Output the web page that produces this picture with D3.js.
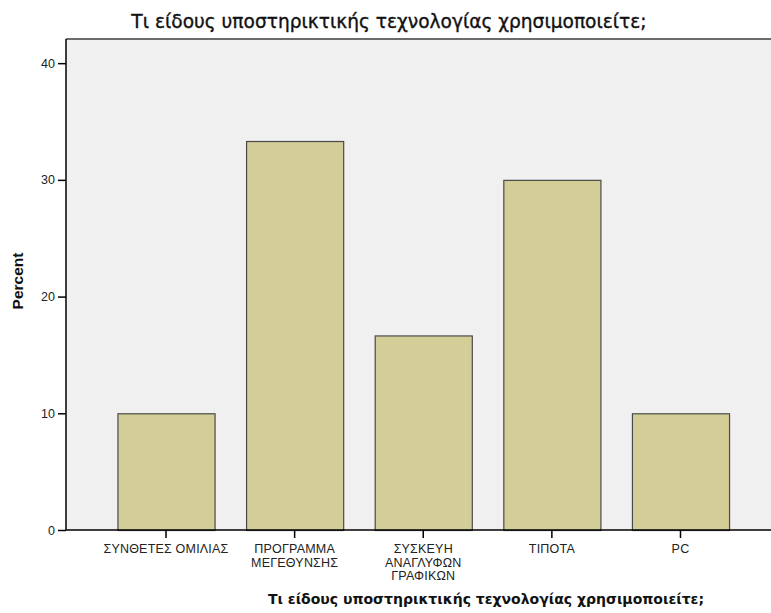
<!DOCTYPE html>
<html>
<head>
<meta charset="utf-8">
<script src="https://cdn.jsdelivr.net/npm/d3@7"></script>
<style>
  body { margin: 0; background: #fff; }
  text { font-family: "Liberation Sans", Arial, sans-serif; }
</style>
</head>
<body>
<svg id="chart"></svg>
<script>
// data
var categories = ["ΣΥΝΘΕΤΕΣ ΟΜΙΛΙΑΣ", "ΠΡΟΓΡΑΜΜΑ ΜΕΓΕΘΥΝΣΗΣ", "ΣΥΣΚΕΥΗ ΑΝΑΓΛΥΦΩΝ ΓΡΑΦΙΚΩΝ", "ΤΙΠΟΤΑ", "PC"];
var labelLines = [["ΣΥΝΘΕΤΕΣ ΟΜΙΛΙΑΣ"], ["ΠΡΟΓΡΑΜΜΑ", "ΜΕΓΕΘΥΝΣΗΣ"], ["ΣΥΣΚΕΥΗ", "ΑΝΑΓΛΥΦΩΝ", "ΓΡΑΦΙΚΩΝ"], ["ΤΙΠΟΤΑ"], ["PC"]];
var percents = [10, 33.33, 16.67, 30, 10];
var yTicks = [0, 10, 20, 30, 40];
var title = "Τι είδους υποστηρικτικής τεχνολογίας χρησιμοποιείτε;";

var width = 771, height = 613;
var plotLeft = 66, plotTop = 39, plotBottom = 530, plotRight = 771;

var svg = d3.select("#chart")
  .attr("width", width)
  .attr("height", height);

var x = d3.scaleBand()
  .domain(categories)
  .range([101.7, 744.8])
  .paddingInner(0.245)
  .paddingOuter(0.1225);

var y = d3.scaleLinear()
  .domain([0, 42.07])
  .range([plotBottom, plotTop]);

// plot background
svg.append("rect")
  .attr("x", plotLeft)
  .attr("y", plotTop)
  .attr("width", plotRight - plotLeft)
  .attr("height", plotBottom - plotTop)
  .attr("fill", "#f0f0f0");

svg.append("line")
  .attr("x1", plotLeft).attr("x2", plotRight)
  .attr("y1", plotTop).attr("y2", plotTop)
  .attr("stroke", "#6b6b6b")
  .attr("stroke-width", 2);

// bars
svg.append("g").selectAll("rect")
  .data(percents)
  .enter()
  .append("rect")
  .attr("x", (d, i) => x(categories[i]) + 0.5)
  .attr("y", d => y(d) + 0.5)
  .attr("width", x.bandwidth())
  .attr("height", d => y(0) - y(d))
  .attr("fill", "#d3ce97")
  .attr("stroke", "#4a4a4a")
  .attr("stroke-width", 1.2);

// y axis
var yAxis = svg.append("g")
  .attr("transform", "translate(" + plotLeft + ",0)")
  .call(d3.axisLeft(y).tickValues(yTicks).tickSize(8).tickSizeOuter(0).tickPadding(3));
yAxis.select(".domain").attr("stroke", "#000").attr("stroke-width", 1.5)
  .attr("d", "M0," + plotTop + "V" + plotBottom);
yAxis.selectAll(".tick line").attr("stroke", "#000").attr("stroke-width", 1.5);
yAxis.selectAll(".tick text")
  .style("font-size", "12.5px")
  .style("font-family", "Liberation Sans, Arial, sans-serif")
  .attr("fill", "#222");

// x axis
var xAxis = svg.append("g")
  .attr("transform", "translate(0," + plotBottom + ")")
  .call(d3.axisBottom(x).tickSize(8).tickSizeOuter(0).tickFormat(""));
xAxis.select(".domain").attr("stroke", "#000").attr("stroke-width", 1.5)
  .attr("d", "M" + plotLeft + ",0H" + plotRight);
xAxis.selectAll(".tick line").attr("stroke", "#000").attr("stroke-width", 1.5);

var labels = svg.append("g").selectAll("text")
  .data(categories)
  .enter()
  .append("text")
  .attr("text-anchor", "middle")
  .attr("x", d => x(d) + x.bandwidth() / 2)
  .attr("y", 553)
  .style("font-size", "12.5px")
  .style("letter-spacing", "0.2px")
  .attr("fill", "#222");
labels.each(function(d, i) {
  var t = d3.select(this);
  labelLines[i].forEach(function(line, j) {
    t.append("tspan")
      .attr("x", x(d) + x.bandwidth() / 2)
      .attr("dy", j === 0 ? 0 : 13.5)
      .text(line);
  });
});

// titles
svg.append("text")
  .attr("x", 389)
  .attr("y", 28)
  .attr("text-anchor", "middle")
  .style("font-family", "DejaVu Sans, sans-serif")
  .style("font-size", "18.6px")
  .attr("fill", "#111")
  .attr("stroke", "#111")
  .attr("stroke-width", 0.35)
  .text(title);

svg.append("text")
  .attr("x", 486)
  .attr("y", 604)
  .attr("text-anchor", "middle")
  .style("font-family", "DejaVu Sans, sans-serif")
  .style("font-size", "14px")
  .style("font-weight", "bold")
  .attr("fill", "#111")
  .text(title);

svg.append("text")
  .attr("transform", "translate(23,281) rotate(-90)")
  .attr("text-anchor", "middle")
  .style("font-size", "15.5px")
  .style("font-weight", "bold")
  .attr("fill", "#111")
  .text("Percent");
</script>
</body>
</html>
